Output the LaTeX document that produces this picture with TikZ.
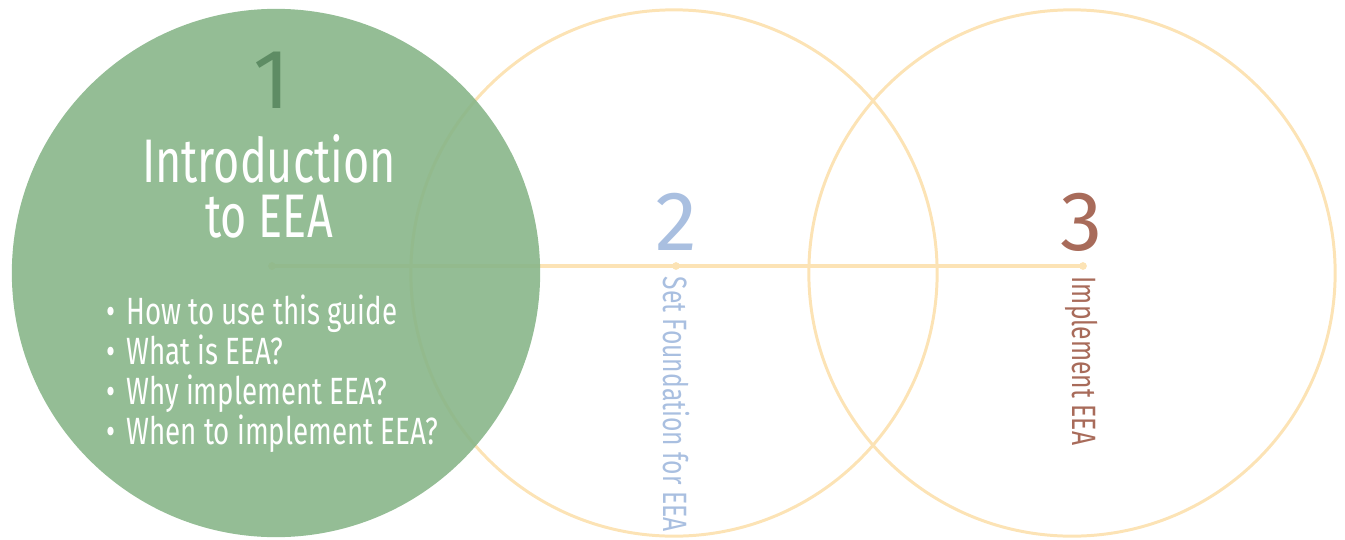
\documentclass[tikz,border=0pt]{standalone}
\usepackage{fontspec}
\setmainfont{Fira Sans}
\newfontfamily\narrowfont[FakeStretch=0.73]{Fira Sans}
\usetikzlibrary{positioning}
\definecolor{leafgreen}{HTML}{88B689}
\definecolor{darkleaf}{HTML}{5E8C64}
\definecolor{sand}{HTML}{FCE3B5}
\definecolor{skyblue}{HTML}{A9BFE0}
\definecolor{clay}{HTML}{A86B5A}
\tikzset{
  ring/.style={draw=sand,line width=0.85pt},
  stepnum/.style={inner sep=0pt,font=\fontsize{24}{26}\selectfont},
  steptext/.style={inner sep=0pt,font=\narrowfont\fontsize{9.6}{10}\selectfont,rotate=-90,anchor=west},
  titletext/.style={inner sep=0pt,text=white,anchor=base,text height=12pt,text depth=0pt,font=\narrowfont\fontsize{17.5}{18}\selectfont},
  bullets/.style={inner sep=0pt,text=white,align=left,anchor=north west,font=\narrowfont\fontsize{10.8}{11.4}\selectfont}
}
\begin{document}
\begin{tikzpicture}[x=0.01cm,y=-0.01cm,line join=round,line cap=round]
\useasboundingbox (0,0) rectangle (1345,539);
\coordinate (C1) at (276,273);
\coordinate (C2) at (674,273);
\coordinate (C3) at (1072,273);
\coordinate (P1) at (272,266);
\coordinate (P2) at (676,266);
\coordinate (P3) at (1083,266);
\draw[ring] (C2) circle[radius=2.63cm] (C3) circle[radius=2.63cm];
\draw[sand,line width=0.9pt] (P1)--(P3);
\foreach \p in {P1,P2,P3}{\fill[sand](\p) circle (1.1pt);}
\fill[leafgreen,opacity=0.9] (C1) circle[radius=2.64cm];
\node[stepnum,text=darkleaf,anchor=base] (one) at (272,108) {1};
\node[titletext] (intro) at (269,182) {Introduction};
\node[titletext] (introb) at (269,237) {to EEA};
\node[bullets] (list) at (106,294) {\textbullet\hspace{3pt}How to use this guide\\\textbullet\hspace{3pt}What is EEA?\\\textbullet\hspace{3pt}Why implement EEA?\\\textbullet\hspace{3pt}When to implement EEA?};
\node[stepnum,text=skyblue,anchor=base] (two) at (676,250) {2};
\node[stepnum,text=clay,anchor=base] (three) at (1082,250) {3};
\node[steptext,text=skyblue] (found) at (676,276) {Set Foundation for EEA};
\node[steptext,text=clay] (impl) at (1082,276) {Implement EEA};
\end{tikzpicture}
\end{document}
